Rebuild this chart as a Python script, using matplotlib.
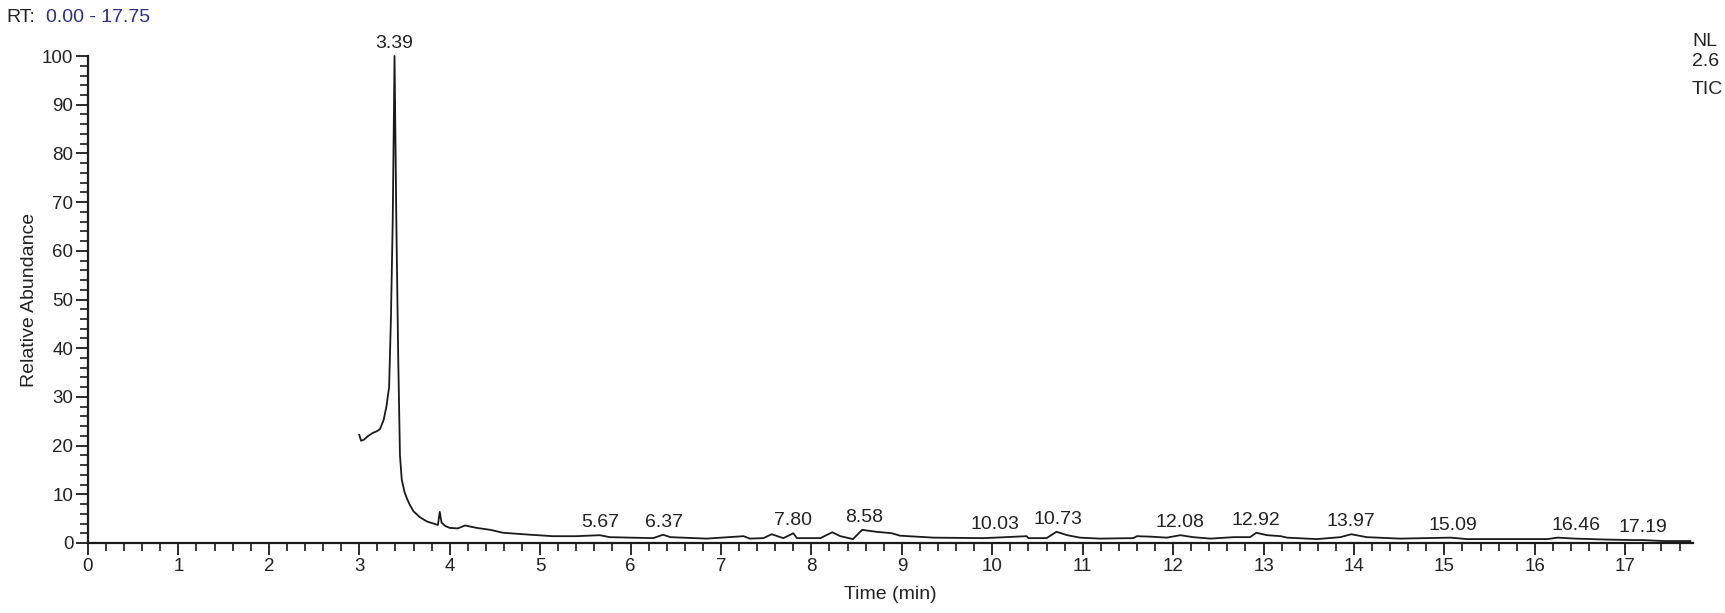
import matplotlib
matplotlib.use("Agg")
import matplotlib.pyplot as plt
from matplotlib.ticker import MultipleLocator
import numpy as np

plt.rcParams['font.family'] = ['Liberation Sans', 'DejaVu Sans']

# --- data ---
time_min = [3.00, 3.02, 3.05, 3.10, 3.15, 3.20, 3.23, 3.27, 3.30, 3.33, 3.35, 3.37,
            3.39, 3.41, 3.43, 3.45, 3.47, 3.50, 3.53, 3.56, 3.60, 3.67, 3.75, 3.82,
            3.87, 3.89, 3.91, 3.95, 4.00, 4.09, 4.17, 4.22, 4.30, 4.45, 4.59, 4.74,
            4.89, 5.14, 5.40, 5.66, 5.77, 6.00, 6.25, 6.36, 6.44, 6.84, 7.25, 7.32,
            7.47, 7.56, 7.69, 7.80, 7.84, 8.10, 8.23, 8.32, 8.46, 8.56, 8.72, 8.89,
            8.98, 9.35, 9.90, 10.03, 10.38, 10.40, 10.60, 10.71, 10.83, 10.97, 11.19,
            11.56, 11.60, 11.75, 11.93, 12.08, 12.22, 12.41, 12.67, 12.85, 12.92,
            13.04, 13.19, 13.26, 13.59, 13.85, 13.97, 14.14, 14.51, 15.07, 15.25,
            15.62, 16.14, 16.25, 16.45, 16.80, 17.10, 17.19, 17.43, 17.72]
abundance = [22.2, 21.0, 21.2, 22.0, 22.6, 23.0, 23.4, 25.3, 28.0, 32.0, 46.0, 66.0,
             100.0, 66.0, 39.0, 18.0, 13.0, 10.5, 9.0, 7.8, 6.5, 5.3, 4.4, 4.0,
             3.7, 6.4, 4.2, 3.5, 3.1, 3.0, 3.6, 3.4, 3.1, 2.7, 2.1, 1.9,
             1.7, 1.4, 1.4, 1.6, 1.2, 1.1, 1.0, 1.7, 1.2, 0.9, 1.4, 0.9,
             1.0, 1.8, 1.0, 2.0, 1.0, 1.0, 2.2, 1.4, 0.8, 2.7, 2.3, 2.0,
             1.5, 1.1, 1.0, 1.1, 1.4, 1.0, 1.0, 2.3, 1.6, 1.1, 0.9,
             1.0, 1.4, 1.3, 1.1, 1.6, 1.2, 0.9, 1.2, 1.2, 2.1,
             1.6, 1.4, 1.1, 0.8, 1.2, 1.8, 1.2, 0.9, 1.1, 0.8,
             0.8, 0.8, 1.1, 0.9, 0.7, 0.6, 0.6, 0.4, 0.4]
peak_labels = ["3.39", "5.67", "6.37", "7.80", "8.58", "10.03", "10.73", "12.08",
               "12.92", "13.97", "15.09", "16.46", "17.19"]
x_ticks = list(range(0, 18))
y_ticks = list(range(0, 101, 10))

fig = plt.figure(figsize=(17.25, 6.13), dpi=100)
ax = fig.add_axes([0.051, 0.1142, 0.9305, 0.7944])

ink = "#1a1a1a"
ax.plot(time_min, abundance, color=ink, lw=1.3, clip_on=False, zorder=3)

for lab in peak_labels:
    t = float(lab)
    y = np.interp(t, time_min, abundance)
    ax.annotate(lab, xy=(t, y), xytext=(0, 3), textcoords="offset points",
                ha="center", va="bottom", fontsize=14, color="#222222",
                annotation_clip=False)

ax.set_xlim(0, 17.75)
ax.set_ylim(0, 100)
ax.set_xticks(x_ticks)
ax.set_yticks(y_ticks)
ax.xaxis.set_minor_locator(MultipleLocator(0.2))
ax.yaxis.set_minor_locator(MultipleLocator(2))
for s in ["top", "right"]:
    ax.spines[s].set_visible(False)
for s in ["left", "bottom"]:
    ax.spines[s].set_linewidth(1.6)
    ax.spines[s].set_color(ink)
ax.tick_params(which="major", length=8.5, width=1.3, color=ink, labelsize=13.5,
               labelcolor="#222222", pad=2)
ax.tick_params(which="minor", length=6, width=1.2, color=ink)

ax.set_xlabel("Time (min)", fontsize=14, color="#222222", labelpad=8)
ax.set_ylabel("Relative Abundance", fontsize=14, color="#222222", labelpad=3)

fig.text(6 / 1725, 1 - 17 / 613, "RT:", fontsize=14, color="#222222",
         ha="left", va="center")
fig.text(46 / 1725, 1 - 17 / 613, "0.00 - 17.75", fontsize=14, color="#2e2e8a",
         ha="left", va="center")

fig.text(1692 / 1725, 1 - 42 / 613, "NL", fontsize=14, color="#222222",
         ha="left", va="center")
fig.text(1692 / 1725, 1 - 61 / 613, "2.6", fontsize=14, color="#222222",
         ha="left", va="center")
fig.text(1692 / 1725, 1 - 90 / 613, "TIC", fontsize=14, color="#222222",
         ha="left", va="center")

fig.savefig("out.png", dpi=100, facecolor="white")
